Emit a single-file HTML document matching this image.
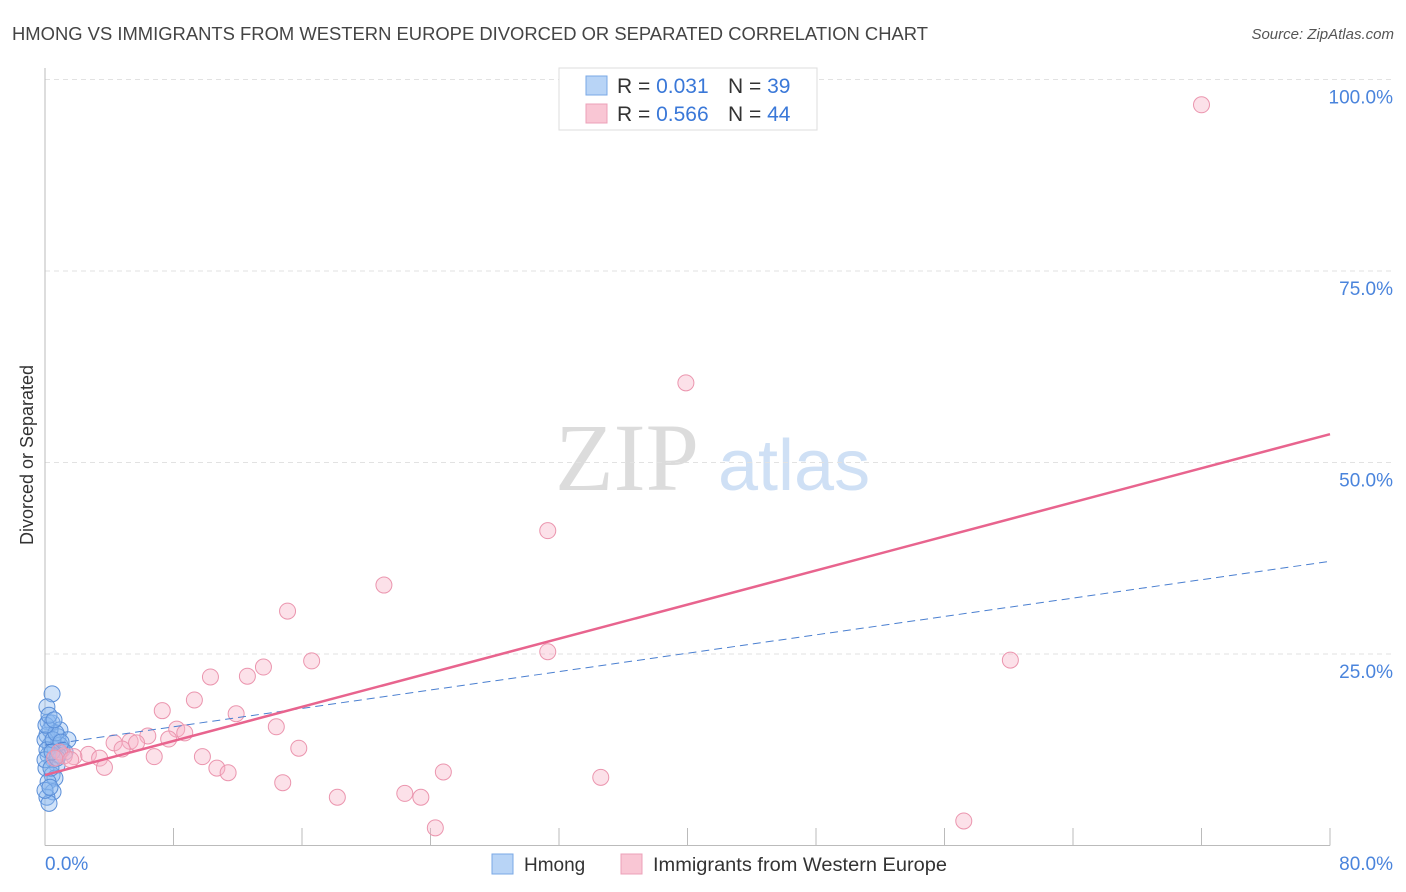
<!DOCTYPE html>
<html><head><meta charset="utf-8"><style>
body{margin:0;background:#fff;font-family:"Liberation Sans",sans-serif;}
svg{display:block}
</style></head><body>
<svg id="chart" width="1406" height="892" xmlns="http://www.w3.org/2000/svg">
<text x="12" y="40" font-size="18" fill="#444" textLength="916" lengthAdjust="spacingAndGlyphs">HMONG VS IMMIGRANTS FROM WESTERN EUROPE DIVORCED OR SEPARATED CORRELATION CHART</text>
<text x="1394" y="39" font-size="15" font-style="italic" fill="#555" text-anchor="end">Source: ZipAtlas.com</text>
<g>
<text x="555" y="490" font-family="Liberation Serif,serif" font-size="96" fill="#dcdcdc">ZIP</text>
<text x="718" y="490" font-size="72" fill="#cfe0f5">atlas</text>
</g>
<g id="grid"></g>
<g id="axes"></g>
<g id="marks"></g>
<text transform="translate(33,455) rotate(-90)" font-size="18" fill="#333" text-anchor="middle">Divorced or Separated</text>
<g>
<rect x="559" y="68" width="258" height="62" fill="#fff" stroke="#ddd"/>
<rect x="586" y="76" width="21" height="19" fill="#b8d4f6" stroke="#7aa8e6"/>
<rect x="586" y="104" width="21" height="19" fill="#f9c6d4" stroke="#eca0b8"/>
<text x="617" y="93" font-size="21" fill="#333">R = <tspan fill="#3a78d8">0.031</tspan></text>
<text x="728" y="93" font-size="21" fill="#333">N = <tspan fill="#3a78d8">39</tspan></text>
<text x="617" y="121" font-size="21" fill="#333">R = <tspan fill="#3a78d8">0.566</tspan></text>
<text x="728" y="121" font-size="21" fill="#333">N = <tspan fill="#3a78d8">44</tspan></text>
</g>
<g>
<rect x="492" y="854" width="21" height="20" fill="#b8d4f6" stroke="#7aa8e6"/>
<text x="524" y="871" font-size="19" fill="#333">Hmong</text>
<rect x="621" y="854" width="21" height="20" fill="#f9c6d4" stroke="#eca0b8"/>
<text x="653" y="871" font-size="19" fill="#333" textLength="294" lengthAdjust="spacingAndGlyphs">Immigrants from Western Europe</text>
</g>
</svg>
<script>
const yTicks=[25,50,75,100];
const yTickLabels=["25.0%","50.0%","75.0%","100.0%"];
const xTickValues=[8,16,24,32,40,48,56,64,72,80];
const pinkX=[72.0,39.9,31.3,21.1,15.1,31.3,60.1,16.6,13.6,10.3,12.6,9.3,7.3,11.9,8.2,14.4,8.7,6.4,7.7,5.3,4.3,5.7,4.8,15.8,6.8,9.8,2.7,3.4,1.8,1.2,10.7,11.4,3.7,24.8,34.6,14.8,18.2,22.4,23.4,24.3,57.2,0.9,0.6,1.6];
const pinkY=[96.7,60.4,41.1,34.0,30.6,25.3,24.2,24.1,23.3,22.0,22.1,19.0,17.6,17.2,15.2,15.5,14.7,14.3,13.9,13.6,13.4,13.4,12.6,12.7,11.6,11.6,11.9,11.4,11.6,11.7,10.1,9.5,10.2,9.6,8.9,8.2,6.3,6.8,6.3,2.3,3.2,12.2,11.4,11.2];
const blueX=[0.44,0.12,0.19,0.44,0.93,0.12,0.81,1.43,0.31,0.62,1.06,0.19,0.5,0.75,0.06,0.44,0.62,0.19,0.5,0.12,0.25,0.93,1.25,0.31,0,0.81,0.12,0.5,0.68,0,0.37,0.06,0.25,0.56,1.0,0.75,0,0.31,0.44];
const blueY=[19.8,18.1,16.1,16.0,15.1,14.4,14.2,13.8,13.1,12.7,12.5,11.8,11.2,10.5,10.1,9.2,8.8,8.3,7.0,6.3,5.5,13.1,12.2,15.1,13.8,11.8,12.5,13.8,14.7,11.2,10.1,15.7,17.0,16.4,13.5,11.4,7.2,7.6,12.2];
const pinkTrend=[9.2,53.7];
const blueTrend=[13.1,37.1];

const NS="http://www.w3.org/2000/svg";
const X0=45,X1=1330,Y0=845.5,Y1=79.5;
const sx=v=>X0+v/80*(X1-X0);
const sy=v=>Y0-v/100*(Y0-Y1);
function mk(tag,attrs,parent){const e=document.createElementNS(NS,tag);for(const k in attrs)e.setAttribute(k,attrs[k]);parent.appendChild(e);return e;}
const grid=document.getElementById('grid'),axes=document.getElementById('axes'),marks=document.getElementById('marks');
yTicks.forEach((t,i)=>{
 const l=mk('line',{x1:X0,x2:1393,y1:sy(t),y2:sy(t),stroke:'#e2e2e2','stroke-dasharray':'5,4'},grid);
 
 
 const tx=mk('text',{x:1393,y:sy(t)+24,'font-size':19,fill:'#4a84dc','text-anchor':'end'},axes);
 tx.textContent=yTickLabels[i];
 
 
});
const al=mk('line',{x1:X0,x2:X0,y1:68,y2:Y0,stroke:'#bbb'},axes);


const bl=mk('line',{x1:X0,x2:X1,y1:Y0,y2:Y0,stroke:'#bbb'},axes);


xTickValues.forEach(v=>{
 const t=mk('line',{x1:sx(v),x2:sx(v),y1:828,y2:Y0,stroke:'#bbb'},axes);
 
 
});
const xl0=mk('text',{x:45,y:870,'font-size':19,fill:'#4a84dc'},axes);xl0.textContent='0.0%';


const xl1=mk('text',{x:1393,y:870,'font-size':19,fill:'#4a84dc','text-anchor':'end'},axes);xl1.textContent='80.0%';


blueX.forEach((x,i)=>{
 const c=mk('circle',{cx:sx(x),cy:sy(blueY[i]),r:8,fill:'rgba(140,185,240,0.4)',stroke:'#5b8fd8','stroke-width':1},marks);
 
 
});
pinkX.forEach((x,i)=>{
 const c=mk('circle',{cx:sx(x),cy:sy(pinkY[i]),r:8,fill:'rgba(248,180,200,0.4)',stroke:'#eb95ae','stroke-width':1},marks);
 
 
});
const bt=mk('line',{x1:sx(0),y1:sy(blueTrend[0]),x2:sx(80),y2:sy(blueTrend[1]),stroke:'#4a7fd0','stroke-width':1,'stroke-dasharray':'8,5'},marks);


const pt=mk('line',{x1:sx(0),y1:sy(pinkTrend[0]),x2:sx(80),y2:sy(pinkTrend[1]),stroke:'#e8648e','stroke-width':2.5},marks);


</script>
</body></html>
